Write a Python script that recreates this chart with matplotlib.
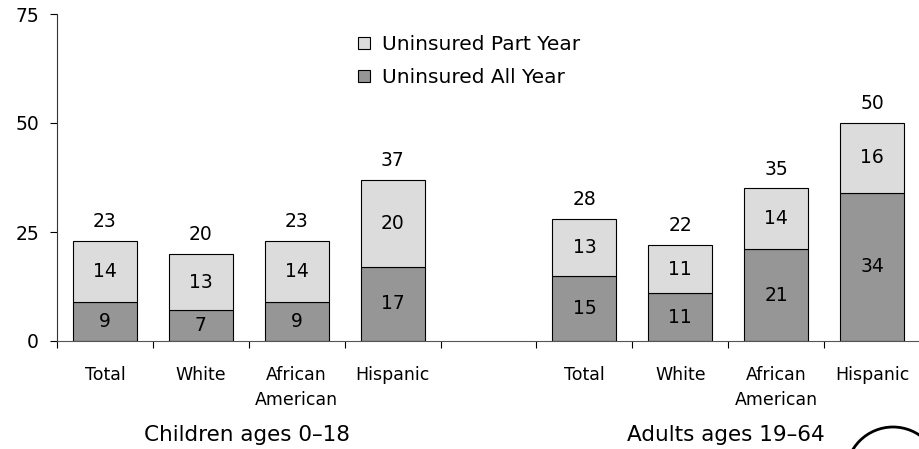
import matplotlib
matplotlib.use("Agg")
import matplotlib.pyplot as plt
from matplotlib.patches import Patch, Ellipse
import numpy as np

plt.rcParams['font.family'] = ['DejaVu Sans']

categories = ["Total", "White", "African\nAmerican", "Hispanic",
              "Total", "White", "African\nAmerican", "Hispanic"]
all_year = [9, 7, 9, 17, 15, 11, 21, 34]
part_year = [14, 13, 14, 20, 13, 11, 14, 16]
group_names = ["Children ages 0\u201318", "Adults ages 19\u201364"]

light = "#dcdcdc"
dark = "#969696"

# slot 4 stays empty, it separates the two groups
pos = np.array([0, 1, 2, 3, 5, 6, 7, 8])
totals = [a + p for a, p in zip(all_year, part_year)]

fig = plt.figure(figsize=(9.2, 4.49), dpi=100)
ax = fig.add_axes([57 / 920, 1 - 341 / 449, 863 / 920, 327 / 449])

w = 0.667
ax.bar(pos, all_year, w, color=dark, edgecolor="black", linewidth=0.8)
ax.bar(pos, part_year, w, bottom=all_year, color=light, edgecolor="black", linewidth=0.8)

for x, a, p, t in zip(pos, all_year, part_year, totals):
    ax.text(x, a / 2, str(a), ha="center", va="center", fontsize=13.5)
    ax.text(x, a + p / 2, str(p), ha="center", va="center", fontsize=13.5)
    ax.annotate(str(t), (x, t), xytext=(0, 7), textcoords="offset points",
                ha="center", va="bottom", fontsize=13.5)

ax.set_xlim(-0.5, 8.49)
ax.set_ylim(0, 75)
ax.set_yticks([0, 25, 50, 75])
ax.tick_params(axis="y", length=5, width=0.8, pad=8, labelsize=13.5)

ax.set_xticks(pos)
ax.set_xticklabels(categories, fontsize=12.5, linespacing=1.5)
ax.set_xticks(np.arange(-0.5, 9, 1), minor=True)
ax.tick_params(axis="x", which="major", length=0, pad=18)
ax.tick_params(axis="x", which="minor", length=5, width=0.8)

for s in ["top", "right"]:
    ax.spines[s].set_visible(False)
ax.spines["left"].set_color("#333333")
ax.spines["bottom"].set_color("#555555")
ax.spines["left"].set_linewidth(0.8)
ax.spines["bottom"].set_linewidth(0.8)

trans = matplotlib.transforms.blended_transform_factory(ax.transData, ax.transAxes)
ax.text(1.48, -0.2875, group_names[0], transform=trans, ha="center", va="center", fontsize=15.5)
ax.text(6.48, -0.2875, group_names[1], transform=trans, ha="center", va="center", fontsize=15.5)

handles = [Patch(facecolor=light, edgecolor="black", linewidth=0.8),
           Patch(facecolor=dark, edgecolor="black", linewidth=0.8)]
ax.legend(handles, ["Uninsured Part Year", "Uninsured All Year"],
          loc="upper left", bbox_to_anchor=(358 / 920, 1 - 35 / 449),
          bbox_transform=fig.transFigure, frameon=False, fontsize=14.5,
          handlelength=0.6, handleheight=0.6, handletextpad=0.6,
          labelspacing=0.7, borderaxespad=0, borderpad=0)

# partial circle at the bottom right corner
fig.add_artist(Ellipse((893 / 920, 1 - 474 / 449), 2 * 47 / 920, 2 * 47 / 449,
                       transform=fig.transFigure, fill=False, edgecolor="black",
                       linewidth=2, clip_on=False))

fig.savefig("out.png", dpi=100)
